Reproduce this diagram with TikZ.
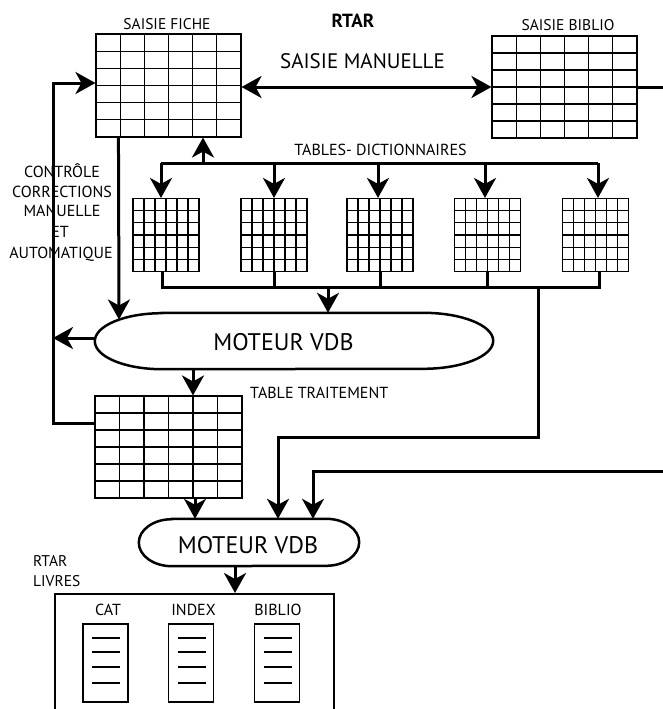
\documentclass[tikz,border=0pt]{standalone}
\usepackage{fontspec}
\setmainfont{PT Sans}
\usetikzlibrary{arrows.meta,calc}
\newcommand\fsz[1]{\fontsize{#1}{#1}\selectfont}
\begin{document}
\begin{tikzpicture}[x=1pt,y=-1pt,
  tgrid/.style n args={2}{draw, line width=1.1pt, inner sep=0pt, minimum width=#1, minimum height=#2,
    path picture={
      \foreach \k in {1,...,5}{
        \draw[line width=1.1pt] ($(path picture bounding box.south west)!\k/6!(path picture bounding box.south east)$) -- ($(path picture bounding box.north west)!\k/6!(path picture bounding box.north east)$);
        \draw[line width=1.1pt] ($(path picture bounding box.south west)!\k/6!(path picture bounding box.north west)$) -- ($(path picture bounding box.south east)!\k/6!(path picture bounding box.north east)$);
      }}},
  docbox/.style={draw, line width=1.8pt, inner sep=0pt, minimum width=45pt, minimum height=78pt,
    path picture={
      \foreach \yy in {14,28,43,59}{
        \draw[line width=1.4pt] ([xshift=9pt,yshift={-\yy*1pt}]path picture bounding box.north west) -- ([xshift=-8pt,yshift={-\yy*1pt}]path picture bounding box.north east);
      }}},
  lbl/.style={inner sep=0pt, anchor=base},
  lblw/.style={inner sep=0pt, anchor=base west},
  conn/.style={line width=3pt},
  arr/.style={line width=3pt, -{Stealth[length=20pt,width=22pt,inset=6pt]}},
  darr/.style={line width=3pt, {Stealth[length=20pt,width=22pt,inset=6pt]}-{Stealth[length=20pt,width=22pt,inset=6pt]}},
  oval/.style={line width=2.5pt},
  place/.style={inner sep=0pt}
]
\useasboundingbox (0,0) rectangle (663,709);
\clip (0,0) rectangle (663,709);

% tables
\node[tgrid={145pt}{103pt}] (fiche) at (168.5,85.5) {};
\node[tgrid={145pt}{102pt}] (biblio) at (564.5,87) {};
\node[tgrid={66pt}{73pt}] (dict1) at (166,235) {};
\node[tgrid={66pt}{73pt}] (dict2) at (274,235) {};
\node[tgrid={66pt}{73pt}] (dict3) at (380,235) {};
\node[tgrid={66pt}{73pt}] (dict4) at (487.5,235) {};
\node[tgrid={66pt}{73pt}] (dict5) at (595.5,235) {};
\node[tgrid={147pt}{102pt}] (trait) at (168.5,447) {};

% engines
\node[place, minimum width=398pt, minimum height=56pt] (m1) at (294,341) {};
\draw[oval] ([xshift=67pt]m1.north west) -- ([xshift=-70pt]m1.north east)
  arc[start angle=90, end angle=-90, x radius=70pt, y radius=28pt]
  -- ([xshift=67pt]m1.south west)
  arc[start angle=270, end angle=90, x radius=67pt, y radius=28pt] -- cycle;
\node[lbl, font=\fsz{24}] (m1t) at (283.5,350) {MOTEUR VDB};

\node[place, minimum width=220pt, minimum height=47pt] (m2) at (249,542.5) {};
\draw[oval] ([xshift=33pt]m2.north west) -- ([xshift=-33pt]m2.north east)
  arc[start angle=90, end angle=-90, x radius=33pt, y radius=23.5pt]
  -- ([xshift=33pt]m2.south west)
  arc[start angle=270, end angle=90, x radius=33pt, y radius=23.5pt] -- cycle;
\node[lbl, font=\fsz{24}] (m2t) at (248,553.3) {MOTEUR VDB};

% books box
\node[draw, line width=2pt, inner sep=0pt, minimum width=279pt, minimum height=140pt, anchor=north west] (livres) at (54,593) {};
\node[docbox] (dcat) at (105.5,663) {};
\node[docbox] (dindex) at (191,663) {};
\node[docbox] (dbiblio) at (277,663) {};

% labels
\node[lbl, font=\fsz{19}\bfseries] (rtar) at (353,28) {RTAR};
\node[lbl, font=\fsz{15.5}] (lfiche) at (167,30) {SAISIE FICHE};
\node[lbl, font=\fsz{15.5}] (lbiblio) at (568,30.5) {SAISIE BIBLIO};
\node[lbl, font=\fsz{21}] (lman) at (362.5,68) {SAISIE MANUELLE};
\node[lbl, font=\fsz{16}] (ldict) at (380.5,155) {TABLES- DICTIONNAIRES};
\node[lbl, font=\fsz{16}] (c1) at (62,177.3) {CONTRÔLE};
\node[lbl, font=\fsz{16}] (c2) at (62,197) {CORRECTIONS};
\node[lbl, font=\fsz{16}] (c3) at (62,216.7) {MANUELLE};
\node[lbl, font=\fsz{16}] (c4) at (60,237) {ET};
\node[lbl, font=\fsz{16}] (c5) at (61,258) {AUTOMATIQUE};
\node[lblw, font=\fsz{16}] (ltrait) at (250,398.3) {TABLE TRAITEMENT};
\node[lblw, font=\fsz{15.5}] (lrtar2) at (33,566.7) {RTAR};
\node[lblw, font=\fsz{15.5}] (llivres) at (33,586) {LIVRES};
\node[lbl, font=\fsz{16}] (lcat) at (108,615) {CAT};
\node[lbl, font=\fsz{16}] (lindex) at (193.5,615) {INDEX};
\node[lbl, font=\fsz{16}] (lbib) at (278,615) {BIBLIO};

% manual entry
\draw[darr] (fiche.east |- biblio.west) -- (biblio.west);
\coordinate (outA) at (663,87);
\draw[conn] (biblio.east) -- (outA);

% control loop
\coordinate (loopx) at (53,0);
\coordinate (tw) at ([yshift=24pt]trait.west);
\coordinate (fin) at ([yshift=2.5pt]fiche.west);
\draw[arr] (tw) -- (tw -| loopx) -- (fin -| loopx) -- (fin);
\coordinate (m1w) at ([yshift=3pt]m1.west);
\draw[arr] (m1w) -- (m1w -| loopx);
\coordinate (fdown) at ([xshift=23pt]fiche.south west);
\coordinate (m1in) at (119,319.5);
\draw[arr] (fdown) -- (m1in);

% dictionaries
\coordinate (bt) at (0,163);
\coordinate (upx) at (203,0);
\coordinate (d1n) at ([xshift=-5pt]dict1.north);
\coordinate (d2n) at (dict2.north);
\coordinate (d3n) at ([xshift=-2pt]dict3.north);
\coordinate (d4n) at ([xshift=-2.5pt]dict4.north);
\coordinate (d5n) at ([xshift=2.5pt]dict5.north);
\draw[conn] (d1n |- bt) -- (d5n |- bt);
\draw[arr] (upx |- bt) -- (upx |- fiche.south);
\foreach \d in {d1n,d2n,d3n,d4n,d5n}{
  \draw[arr] (\d |- bt) -- (\d);
}
\coordinate (bb) at (0,287);
\coordinate (d1s) at ([xshift=-4pt]dict1.south);
\coordinate (d5s) at ([xshift=3.5pt]dict5.south);
\draw[conn] (d1s) -- (d1s |- bb) -- (d5s |- bb) -- (d5s);
\draw[conn] (dict2.south) -- (dict2.south |- bb);
\draw[conn] (dict3.south) -- (dict3.south |- bb);
\draw[conn] (dict4.south) -- (dict4.south |- bb);
\coordinate (bdx) at (328,0);
\draw[arr] (bdx |- bb) -- (bdx |- m1.north);

% to second engine
\coordinate (vx) at (538,0);
\coordinate (jog) at (0,437);
\coordinate (m2a) at ([xshift=29pt]m2.north);
\draw[arr] (vx |- bb) -- (vx |- jog) -- (m2a |- jog) -- (m2a);
\coordinate (outB) at (663,471);
\coordinate (m2b) at ([xshift=64pt]m2.north);
\draw[arr] (outB) -| (m2b);

\coordinate (tt) at ([xshift=24.5pt]trait.north);
\draw[arr] (tt |- m1.south) -- (tt);
\coordinate (tb) at ([xshift=26.5pt]trait.south);
\draw[arr] (tb) -- (tb |- m2.north);
\coordinate (ml) at ([xshift=-14pt]m2.south);
\draw[arr] (ml) -- (ml |- livres.north);
\end{tikzpicture}
\end{document}
